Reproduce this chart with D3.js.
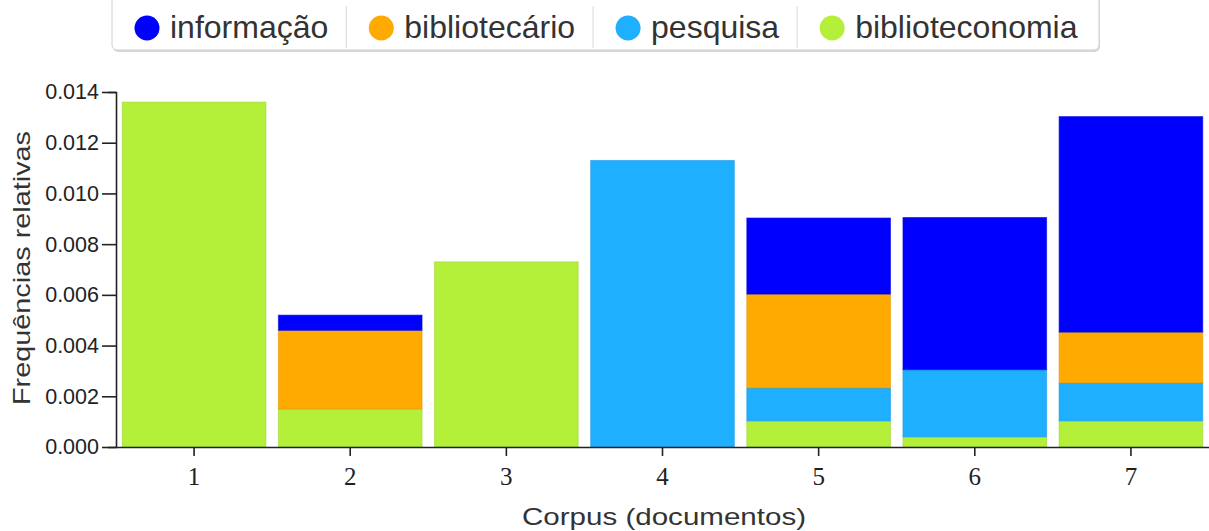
<!DOCTYPE html>
<html>
<head>
<meta charset="utf-8">
<script src="https://cdn.jsdelivr.net/npm/d3@7"></script>
<style>
  html, body { margin: 0; padding: 0; background: #fff; }
  svg { display: block; }
</style>
</head>
<body>
<svg id="chart" width="1209" height="531"></svg>
<script>
// ---- data ----
const categories = ["1", "2", "3", "4", "5", "6", "7"];
const informacao      = [0,      0.0006, 0,      0,      0.0030, 0.0060,  0.0085];
const bibliotecario   = [0,      0.0031, 0,      0,      0.0037, 0,       0.0020];
const pesquisa        = [0,      0,      0,      0.0113, 0.0013, 0.00265, 0.0015];
const biblioteconomia = [0.0136, 0.0015, 0.0073, 0,      0.00103, 0.0004, 0.00103];
const seriesNames  = ["informação", "bibliotecário", "pesquisa", "biblioteconomia"];
const seriesColors = ["#0000FF", "#FFAA00", "#1EAFFF", "#B4F03A"];
const yTicks = [0, 0.002, 0.004, 0.006, 0.008, 0.010, 0.012, 0.014];
const xTitle = "Corpus (documentos)";
const yTitle = "Frequências relativas";

(function () {
// ---- build ----
const seriesValues = [informacao, bibliotecario, pesquisa, biblioteconomia];
const rows = categories.map((c, i) => {
  const r = { cat: c };
  seriesNames.forEach((n, j) => r[n] = seriesValues[j][i]);
  return r;
});
// stack order bottom -> top
const stackKeys = ["biblioteconomia", "pesquisa", "bibliotecário", "informação"];
const stacked = d3.stack().keys(stackKeys)(rows);
const color = d3.scaleOrdinal().domain(seriesNames).range(seriesColors);

const svg = d3.select("#chart");
const pLeft = 116, pRight = 1209, pTop = 92, pBottom = 447;

const x = d3.scaleBand().domain(categories).range([pLeft, pRight])
  .paddingInner(0.08).paddingOuter(0.04);
const y = d3.scaleLinear().domain([0, 0.014]).range([pBottom, pTop]);

// bars
const g = svg.append("g");
stacked.forEach(layer => {
  const c = color(layer.key);
  g.append("g").selectAll("rect")
    .data(layer.filter(d => d[1] - d[0] > 0))
    .join("rect")
    .attr("x", d => x(d.data.cat))
    .attr("width", x.bandwidth())
    .attr("y", d => y(d[1]))
    .attr("height", d => y(d[0]) - y(d[1]))
    .attr("fill", c)
    .attr("stroke", d3.color(c).darker(0.35))
    .attr("stroke-opacity", 0.6)
    .attr("stroke-width", 1);
});

// y axis
const yAxis = svg.append("g")
  .attr("transform", `translate(${pLeft},0)`)
  .call(d3.axisLeft(y).tickValues(yTicks).tickFormat(d3.format(".3f"))
    .tickSizeInner(14).tickSizeOuter(8).tickPadding(3));
yAxis.selectAll("text")
  .attr("font-family", "Liberation Sans, Arial, sans-serif")
  .attr("font-size", 21.5).attr("fill", "#222");

// x axis
const xAxis = svg.append("g")
  .attr("transform", `translate(0,${pBottom})`)
  .call(d3.axisBottom(x).tickSizeInner(9).tickSizeOuter(0).tickPadding(11));
xAxis.selectAll("text")
  .attr("font-family", "Liberation Serif, Times New Roman, serif")
  .attr("font-size", 25).attr("fill", "#222");

[yAxis, xAxis].forEach(a => {
  a.selectAll("path.domain").attr("stroke", "#222").attr("stroke-width", 1.6);
  a.selectAll(".tick line").attr("stroke", "#222").attr("stroke-width", 1.6);
});

// axis titles
svg.append("text")
  .attr("x", 664).attr("y", 525)
  .attr("text-anchor", "middle")
  .attr("font-family", "Liberation Sans, Arial, sans-serif")
  .attr("font-size", 24).attr("fill", "#333")
  .attr("textLength", 284).attr("lengthAdjust", "spacingAndGlyphs")
  .text(xTitle);

svg.append("text")
  .attr("transform", "translate(30,268) rotate(-90)")
  .attr("text-anchor", "middle")
  .attr("font-family", "Liberation Sans, Arial, sans-serif")
  .attr("font-size", 24).attr("fill", "#333")
  .attr("textLength", 274).attr("lengthAdjust", "spacingAndGlyphs")
  .text(yTitle);

// legend
const lg = svg.append("g");
const boxLeft = 112, boxRight = 1099, boxBottom = 50;
lg.append("rect")
  .attr("x", boxLeft + 1).attr("y", -8)
  .attr("width", boxRight - boxLeft).attr("height", boxBottom + 10)
  .attr("rx", 5).attr("fill", "#d8d8d8");
lg.append("rect")
  .attr("x", boxLeft).attr("y", -8)
  .attr("width", boxRight - boxLeft).attr("height", boxBottom + 8)
  .attr("rx", 5).attr("fill", "#fff").attr("stroke", "#d0d0d0");

let cx = boxLeft;
seriesNames.forEach((name, i) => {
  const it = lg.append("g");
  const circX = cx + 35;
  it.append("circle").attr("cx", circX).attr("cy", 28).attr("r", 12.5)
    .attr("fill", color(name));
  const t = it.append("text").attr("x", circX + 23).attr("y", 38)
    .attr("font-family", "Liberation Sans, Arial, sans-serif")
    .attr("font-size", 32).attr("fill", "#333")
    .text(name);
  const w = t.node().getComputedTextLength();
  cx = circX + 23 + w + 18;
  if (i < seriesNames.length - 1) {
    lg.append("line").attr("x1", cx).attr("x2", cx).attr("y1", 6).attr("y2", boxBottom - 2)
      .attr("stroke", "#d8d8d8");
  }
});
})();
</script>
</body>
</html>
